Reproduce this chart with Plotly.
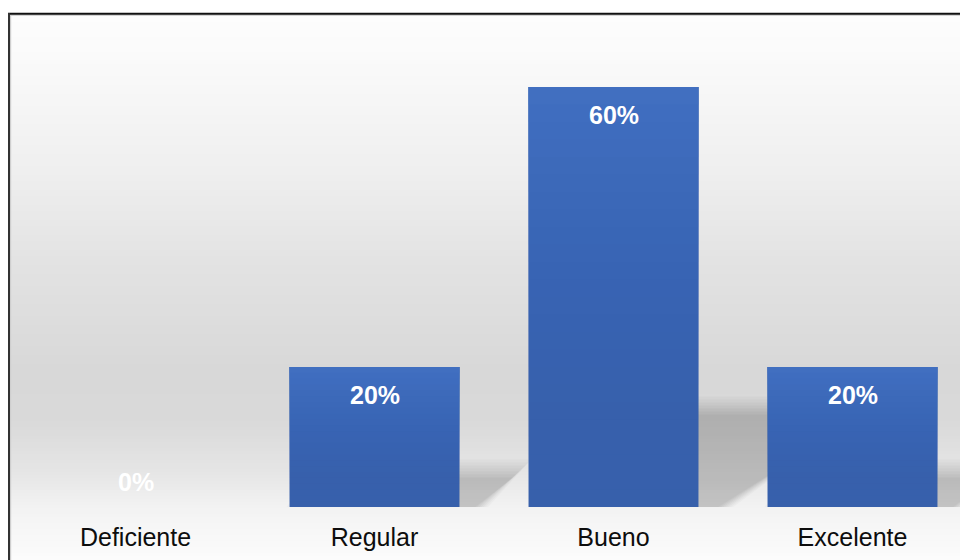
import plotly.graph_objects as go

categories = ["Deficiente", "Regular", "Bueno", "Excelente"]
values = [0.0, 0.20, 0.60, 0.20]
labels = ["0%", "20%", "60%", "20%"]

W, H = 960, 560
ML, MR, MT, MB = 16, 0, 14, 53
PW = W - ML - MR
PH = H - MT - MB
BOTTOM = MT + PH          # pixel y of baseline
PX_PER_CAT = 239.0
PX_PER_UNIT = 700.0
BARGAP = 0.289
BAR_BASE = "#3760ab"
BAR_TOP_RGB = (68, 114, 196)
FONT = "Liberation Sans, Arial, sans-serif"

def py2paper(py):
    return (BOTTOM - py) / PH

def px2paper(px):
    return (px - ML) / PW

def hexrgb(h):
    h = h.lstrip("#")
    return tuple(int(h[i:i + 2], 16) for i in (0, 2, 4))

# background gradient stops (pixel y, colour) -- styling only
stops = [(13, "#fdfdfd"), (60, "#fafafa"), (170, "#efefef"), (260, "#e3e3e3"),
         (370, "#d8d8d8"), (420, "#d9d9d9"), (470, "#e5e5e5"), (510, "#f3f3f3"),
         (560, "#fcfcfc")]

def grad_color(py):
    for (a, ca), (b, cb) in zip(stops[:-1], stops[1:]):
        if a <= py <= b:
            t = (py - a) / (b - a)
            A, B = hexrgb(ca), hexrgb(cb)
            c = [round(A[k] + (B[k] - A[k]) * t) for k in range(3)]
            return "rgb(%d,%d,%d)" % tuple(c)
    return stops[-1][1]

shapes = []
step = 3
py = 13
while py < H:
    shapes.append(dict(type="rect", xref="paper", yref="paper",
                       x0=px2paper(8), x1=1.0,
                       y0=py2paper(py + step + 0.6), y1=py2paper(py),
                       fillcolor=grad_color(py + step / 2), line=dict(width=0),
                       layer="below"))
    py += step

# soft perspective shadows behind bars (derived from the values)
hw = (1 - BARGAP) / 2
K = 0.225   # shadow height factor
S = 1.17    # shadow shear (categories per unit value)
blur = [(16, 0.022), (13, 0.024), (10, 0.026), (7, 0.028), (4, 0.03), (1, 0.032), (-2, 0.03)]
for i, v in enumerate(values):
    if v <= 0:
        continue
    x0, x1 = i - hw, i + hw
    top = K * v
    dx = S * v
    for e_px, a in blur:
        ex = e_px / PX_PER_CAT
        ey = e_px / PX_PER_UNIT
        path = "M %f,%f L %f,%f L %f,%f L %f,%f Z" % (
            x0 - ex, -0.02, x1 + ex, -0.02,
            x1 + dx + ex, top + ey, x0 + dx - ex, top + ey)
        shapes.append(dict(type="path", xref="x", yref="y", path=path,
                           fillcolor="rgba(0,0,0,%f)" % a, line=dict(width=0),
                           layer="below"))

# vertical gradient on bars (lighter toward the top): cumulative overlays, linear blend
NB = 24
fracs = [0.97 * j / NB for j in range(NB + 1)]
for i, v in enumerate(values):
    if v <= 0:
        continue
    for j in range(1, NB):
        a = 1 - (1 - fracs[j]) / (1 - fracs[j - 1])
        shapes.append(dict(type="rect", xref="x", yref="y",
                           x0=i - hw, x1=i + hw,
                           y0=v * j / NB, y1=v,
                           fillcolor="rgba(%d,%d,%d,%.4f)" % (BAR_TOP_RGB + (a,)),
                           line=dict(width=0), layer="above"))

# outer frame
shapes.append(dict(type="line", xref="paper", yref="paper",
                   x0=px2paper(8), x1=1.02, y0=py2paper(15.2), y1=py2paper(15.2),
                   line=dict(color="#c4c4c4", width=1.2), layer="above"))
shapes.append(dict(type="line", xref="paper", yref="paper",
                   x0=px2paper(10.6), x1=px2paper(10.6), y0=py2paper(H + 5), y1=py2paper(14),
                   line=dict(color="#cfcfcf", width=1.2), layer="above"))
shapes.append(dict(type="line", xref="paper", yref="paper",
                   x0=px2paper(8), x1=1.02, y0=py2paper(13.8), y1=py2paper(13.8),
                   line=dict(color="#111111", width=2), layer="above"))
shapes.append(dict(type="line", xref="paper", yref="paper",
                   x0=px2paper(9), x1=px2paper(9), y0=py2paper(H + 5), y1=py2paper(13),
                   line=dict(color="#333333", width=2), layer="above"))

xs = list(range(len(categories)))
fig = go.Figure(go.Bar(x=xs, y=values, marker=dict(color=BAR_BASE, line=dict(width=0)),
                       hoverinfo="skip"))

annotations = []
for i, (v, lab) in enumerate(zip(values, labels)):
    annotations.append(dict(x=i, y=v, xref="x", yref="y", text="<b>%s</b>" % lab,
                            showarrow=False, yshift=(-28 if v > 0 else 25),
                            font=dict(family=FONT, size=25, color="white"),
                            xanchor="center", yanchor="middle"))

xmax = -0.5 + PW / PX_PER_CAT
ymax = PH / PX_PER_UNIT

fig.update_layout(
    width=W, height=H,
    margin=dict(l=ML, r=MR, t=MT, b=MB, pad=0),
    paper_bgcolor="white", plot_bgcolor="rgba(0,0,0,0)",
    bargap=BARGAP, showlegend=False,
    shapes=shapes, annotations=annotations,
    xaxis=dict(range=[-0.5, xmax], tickvals=xs, ticktext=categories,
               showgrid=False, zeroline=False, showline=False,
               ticks="outside", ticklen=8, tickcolor="rgba(0,0,0,0)",
               tickfont=dict(family=FONT, size=25, color="#0d0d0d"), fixedrange=True),
    yaxis=dict(range=[0, ymax], visible=False, fixedrange=True),
)

fig.write_html("out.html")
